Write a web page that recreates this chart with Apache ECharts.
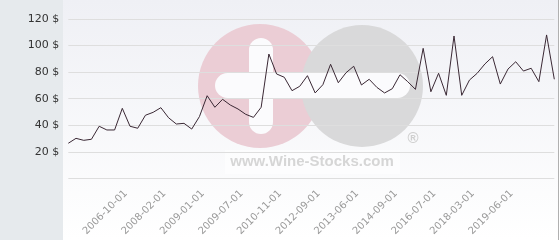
<!DOCTYPE html>
<html><head><meta charset="utf-8">
<script src="https://cdn.jsdelivr.net/npm/echarts@6/dist/echarts.min.js"></script>
<style>html,body{margin:0;padding:0;background:#fff}#c{width:560px;height:240px}</style>
</head><body><div id="c"></div>
<script>
const prices = [26.4,30.1,28.6,29.4,39.2,36.4,36.4,52.7,39.2,37.7,
  47.5,49.7,53.2,45.6,40.9,41.4,37.1,46.5,62.2,53.5,
  59.5,55.2,52.2,48.2,45.9,53.5,93.6,78.6,76.1,66,
  69.3,77.3,64.3,70.5,85.9,72,79.5,84.4,70.3,74.6,
  68.5,64.3,67.5,78,72.8,67,97.9,65.2,79.1,62.5,
  107.2,62.5,74,79.1,86.1,91.6,71,82.3,87.8,80.8,
  82.9,72.8,108,74.6];
const tickLabels = ['2006-10-01','2008-02-01','2009-01-01','2009-07-01','2010-11-01','2012-09-01','2013-06-01','2014-09-01','2016-07-01','2018-03-01','2019-06-01'];
const firstLabelIndex = 7;
const labelStep = 5;
const categories = prices.map((v, i) => String(i));
const yTicks = [0, 20, 40, 60, 80, 100, 120];

function labelFor(i) {
  const k = (i - firstLabelIndex) / labelStep;
  return (i >= firstLabelIndex && Number.isInteger(k) && k < tickLabels.length) ? tickLabels[k] : null;
}

const chart = echarts.init(document.getElementById('c'), null, {renderer: 'canvas'});
chart.setOption({
  animation: false,
  backgroundColor: '#ffffff',
  graphic: [
    {type: 'rect', z: -20, silent: true, shape: {x: 63, y: 0, width: 496, height: 240},
     style: {fill: new echarts.graphic.LinearGradient(0, 0, 0, 1, [{offset: 0, color: '#eff0f5'}, {offset: 1, color: '#ffffff'}])}},
    {type: 'rect', z: -19, silent: true, shape: {x: 0, y: 0, width: 63, height: 240}, style: {fill: '#e6eaed'}},
    {type: 'rect', z: -19, silent: true, shape: {x: 558, y: 0, width: 1, height: 240}, style: {fill: '#b0b0b0'}},
    {type: 'rect', z: -18, silent: true, shape: {x: 225, y: 150, width: 175, height: 24}, style: {fill: 'rgba(255,255,255,0.5)'}},
    {type: 'circle', z: -17, silent: true, shape: {cx: 260, cy: 86, r: 62}, style: {fill: '#ebcdd5'}},
    {type: 'circle', z: -16, silent: true, shape: {cx: 362, cy: 86, r: 61}, style: {fill: '#d9d9da'}},
    {type: 'rect', z: -15, silent: true, shape: {x: 249, y: 38, width: 24, height: 96, r: 12}, style: {fill: '#fbfbfd'}},
    {type: 'rect', z: -15, silent: true, shape: {x: 215, y: 73, width: 195, height: 25, r: 12.5}, style: {fill: '#fbfbfd'}},
    {type: 'text', z: -15, silent: true, style: {x: 312, y: 162, text: 'www.Wine-Stocks.com', fill: '#d6d6d6', font: 'bold 15px "Liberation Sans", Arial, sans-serif', align: 'center', verticalAlign: 'middle'}},
    {type: 'text', z: -15, silent: true, style: {x: 413, y: 139, text: '®', fill: '#cfcfcf', font: 'bold 15px "Liberation Sans", Arial, sans-serif', align: 'center', verticalAlign: 'middle'}}
  ],
  grid: {left: 68.3, right: 5.7, top: 19, bottom: 61.7},
  xAxis: {
    type: 'category', data: categories, boundaryGap: false,
    axisLine: {show: false}, axisTick: {show: false},
    axisLabel: {
      rotate: 45, margin: 10, verticalAlign: 'top', color: '#999999', fontSize: 10, fontFamily: '"DejaVu Sans", sans-serif',
      interval: (i) => labelFor(i) !== null,
      formatter: (v, i) => labelFor(Number(v)) || ''
    },
    splitLine: {show: false}
  },
  yAxis: {
    type: 'value', min: yTicks[0], max: yTicks[yTicks.length - 1], interval: 20,
    axisLine: {show: false}, axisTick: {show: false},
    axisLabel: {margin: 9, color: '#333333', fontSize: 11, fontFamily: '"DejaVu Sans", sans-serif',
      formatter: (v) => v === 0 ? '' : v + ' $'},
    splitLine: {lineStyle: {color: '#dedede', width: 1}}
  },
  series: [{
    type: 'line', data: prices, showSymbol: false, symbol: 'none',
    lineStyle: {color: '#3a2834', width: 1}, z: 5
  }]
});
</script></body></html>
